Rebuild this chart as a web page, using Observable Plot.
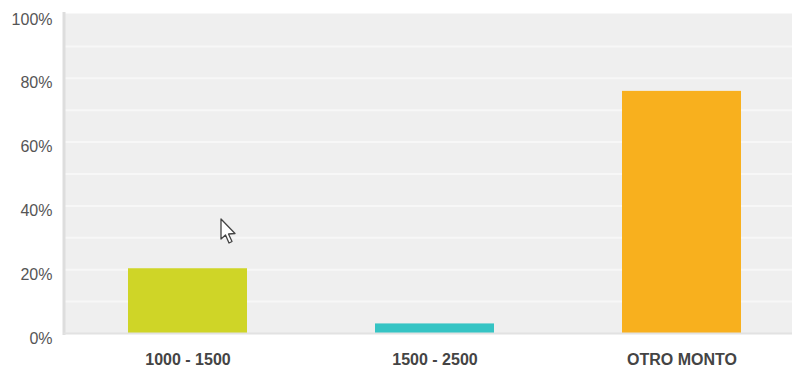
<!DOCTYPE html>
<html>
<head>
<meta charset="utf-8">
<script src="https://cdn.jsdelivr.net/npm/d3@7"></script>
<script src="https://cdn.jsdelivr.net/npm/@observablehq/plot@0.6"></script>
<style>
  html, body { margin: 0; padding: 0; background: #fff; overflow: hidden; }
  #chart { position: relative; width: 792px; height: 370px; }
  #chart svg { display: block; }
  #pointer { position: absolute; left: 220px; top: 218px; }
</style>
</head>
<body>
<div id="chart"></div>
<script>
// Share of answers per amount range
const categories = ["1000 - 1500", "1500 - 2500", "OTRO MONTO"];
const shares = [20.3, 3, 75.9];
const barColors = ["#cfd527", "#35c4c4", "#f8b01e"];
const labelTicks = [0, 20, 40, 60, 80, 100];
const gridTicks = [10, 20, 30, 40, 50, 60, 70, 80, 90];

const rows = categories.map((category, i) => ({category, share: shares[i]}));
const font = "'Liberation Sans', Arial, sans-serif";

const plot = Plot.plot({
  width: 792,
  height: 370,
  marginTop: 13,
  marginBottom: 37,
  marginLeft: 64,
  marginRight: 0,
  style: {fontFamily: font, background: "#fff"},
  // The last band runs past the right edge of the svg, so the range is wider than the plot area
  x: {domain: categories, range: [64, 805.5], paddingInner: 0.52, paddingOuter: 0.26, label: null},
  y: {domain: [0, 100], range: [333, 14], label: null},
  color: {domain: categories, range: barColors},
  marks: [
    Plot.frame({fill: "#efefef", stroke: null}),
    Plot.ruleY(gridTicks, {stroke: "#f7f7f7", strokeWidth: 2}),
    Plot.barY(rows, {x: "category", y: "share", fill: "category"}),
    Plot.frame({anchor: "left", stroke: "#dddddd", strokeWidth: 3, dx: -0.5}),
    Plot.frame({anchor: "bottom", stroke: "#e2e2e2", strokeWidth: 2}),
    Plot.axisY({
      ticks: labelTicks,
      tickSize: 0,
      tickPadding: 12,
      tickFormat: d => d + "%",
      fontSize: 16,
      fill: "#555555",
      dy: 5,
      label: null
    }),
    Plot.axisX({
      tickSize: 0,
      tickPadding: 20,
      fontSize: 16,
      fontWeight: "bold",
      fill: "#444444",
      label: null
    })
  ]
});
document.getElementById("chart").appendChild(plot);

// Mouse pointer resting over the plot
const pointer = d3.select("#chart").append("svg")
  .attr("id", "pointer")
  .attr("width", 18)
  .attr("height", 28)
  .attr("viewBox", "0 0 18 28");
pointer.append("path")
  .attr("d", "M1 1 L1 21 L5.5 17 L9 25 L12 23.5 L8.5 16 L15 15.5 Z")
  .attr("fill", "#ffffff")
  .attr("stroke", "#444444")
  .attr("stroke-width", 1.3)
  .attr("stroke-linejoin", "round");
</script>
</body>
</html>
